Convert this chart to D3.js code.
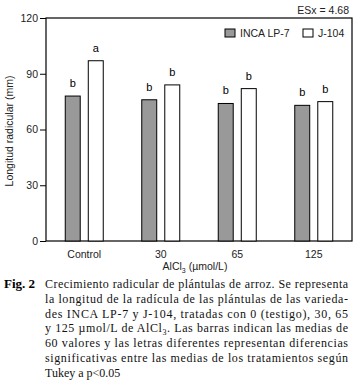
<!DOCTYPE html>
<html>
<head>
<meta charset="utf-8">
<script src="https://cdn.jsdelivr.net/npm/d3@7"></script>
<style>
  body { margin: 0; background: #fff; }
  svg { display: block; }
</style>
</head>
<body>
<svg></svg>
<script>
const doses = ["Control", "30", "65", "125"];
const varieties = ["INCA LP-7", "J-104"];
const incaValues = [78, 76, 74, 73];
const jValues = [97, 84, 82, 75];
const incaLetters = ["b", "b", "b", "b"];
const jLetters = ["a", "b", "b", "b"];
const yTicks = [0, 30, 60, 90, 120];
const captionLines = [
  "Crecimiento radicular de plántulas de arroz. Se representa",
  "la longitud de la radícula de las plántulas de las varieda-",
  "des INCA LP-7 y J-104, tratadas con 0 (testigo), 30, 65",
  "y 125 µmol/L de AlCl|3|. Las barras indican las medias de",
  "60 valores y las letras diferentes representan diferencias",
  "significativas entre las medias de los tratamientos según",
  "Tukey a p<0.05"
];

const width = 359, height = 385;
const margin = { top: 18, right: 7, bottom: 144, left: 46 };
const colors = { "INCA LP-7": "#999999", "J-104": "#ffffff" };
const sans = "'Liberation Sans', Arial, sans-serif";
const serif = "'Liberation Serif', 'Times New Roman', serif";

const data = doses.map((d, i) => ({
  dose: d,
  bars: [
    { key: varieties[0], value: incaValues[i], letter: incaLetters[i] },
    { key: varieties[1], value: jValues[i], letter: jLetters[i] }
  ]
}));

const svg = d3.select("svg").attr("width", width).attr("height", height);

const x0 = d3.scaleBand()
  .domain(doses)
  .range([margin.left, width - margin.right])
  .padding(0);

const x1 = d3.scaleBand()
  .domain(varieties)
  .range([-19, 19])
  .paddingInner(0.35);

const y = d3.scaleLinear()
  .domain([0, 120])
  .range([height - margin.bottom, margin.top]);

// frame
svg.append("rect")
  .attr("x", margin.left).attr("y", margin.top)
  .attr("width", width - margin.right - margin.left)
  .attr("height", y(0) - margin.top)
  .attr("fill", "none").attr("stroke", "#000").attr("stroke-width", 1.2);

const groups = svg.append("g")
  .selectAll("g")
  .data(data)
  .enter().append("g")
  .attr("transform", d => `translate(${x0(d.dose) + x0.bandwidth() / 2},0)`);

groups.selectAll("rect")
  .data(d => d.bars)
  .enter().append("rect")
  .attr("x", d => x1(d.key))
  .attr("y", d => y(d.value))
  .attr("width", x1.bandwidth())
  .attr("height", d => y(0) - y(d.value))
  .attr("fill", d => colors[d.key])
  .attr("stroke", "#000")
  .attr("stroke-width", 1);

groups.selectAll("text")
  .data(d => d.bars)
  .enter().append("text")
  .attr("x", d => x1(d.key) + x1.bandwidth() / 2)
  .attr("y", d => y(d.value) - 9)
  .attr("text-anchor", "middle")
  .style("font-family", sans).style("font-size", "11px")
  .text(d => d.letter);

// axes
const yAxis = svg.append("g")
  .attr("transform", `translate(${margin.left},0)`)
  .call(d3.axisLeft(y).tickValues(yTicks).tickSize(6).tickPadding(2));
yAxis.select(".domain").remove();
yAxis.selectAll("text").style("font-family", sans).style("font-size", "10.5px").attr("fill", "#222");

const xAxis = svg.append("g")
  .attr("transform", `translate(0,${y(0)})`)
  .call(d3.axisBottom(x0).tickSize(0).tickPadding(10));
xAxis.select(".domain").remove();
xAxis.selectAll("text").style("font-family", sans).style("font-size", "10.5px").attr("fill", "#222");

svg.append("text")
  .attr("transform", `translate(13,131) rotate(-90)`)
  .attr("text-anchor", "middle")
  .style("font-family", sans).style("font-size", "10.5px").attr("fill", "#222")
  .text("Longitud radicular (mm)");

const xl = svg.append("text")
  .attr("x", 195).attr("y", 270)
  .attr("text-anchor", "middle")
  .style("font-family", sans).style("font-size", "10.5px").attr("fill", "#222");
xl.append("tspan").text("AlCl");
xl.append("tspan").attr("dy", 2.5).style("font-size", "7px").text("3");
xl.append("tspan").attr("dy", -2.5).text(" (µmol/L)");

svg.append("text")
  .attr("x", 349).attr("y", 14)
  .attr("text-anchor", "end")
  .style("font-family", sans).style("font-size", "10.5px").attr("fill", "#222")
  .text("ESx = 4.68");

// legend
const legend = svg.append("g");
const legendX = [225, 303];
varieties.forEach((v, i) => {
  legend.append("rect")
    .attr("x", legendX[i]).attr("y", 29)
    .attr("width", 10).attr("height", 8)
    .attr("fill", colors[v]).attr("stroke", "#000").attr("stroke-width", 1);
  legend.append("text")
    .attr("x", legendX[i] + 15).attr("y", 37)
    .style("font-family", sans).style("font-size", "10.5px").attr("fill", "#222")
    .text(v);
});

// caption
svg.append("text")
  .attr("x", 4).attr("y", 288)
  .style("font-family", serif).style("font-size", "13px").style("font-weight", "bold")
  .text("Fig. 2");

captionLines.forEach((line, i) => {
  const t = svg.append("text")
    .attr("x", 45).attr("y", 288 + i * 14.8)
    .style("font-family", serif).style("font-size", "12px").attr("fill", "#111");
  if (i < captionLines.length - 1) {
    t.attr("textLength", 303).attr("lengthAdjust", "spacing");
  }
  const parts = line.split("|");
  if (parts.length === 1) {
    t.text(line);
  } else {
    t.append("tspan").text(parts[0]);
    t.append("tspan").attr("dy", 3).style("font-size", "8px").text(parts[1]);
    t.append("tspan").attr("dy", -3).text(parts[2]);
  }
});
</script>
</body>
</html>
